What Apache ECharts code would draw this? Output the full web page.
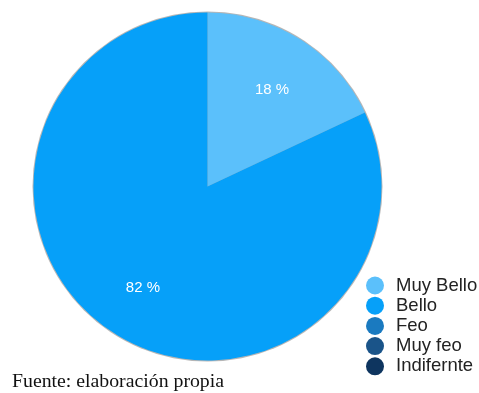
<!DOCTYPE html>
<html>
<head>
<meta charset="utf-8">
<script src="https://cdn.jsdelivr.net/npm/echarts@6/dist/echarts.min.js"></script>
<style>
  html, body { margin: 0; padding: 0; background: #fff; }
  #chart { width: 479px; height: 393px; }
</style>
</head>
<body>
<div id="chart"></div>
<script>
// Survey answers and their shares (percent)
const categories = ['Muy Bello', 'Bello', 'Feo', 'Muy feo', 'Indifernte'];
const values = [18, 82, 0, 0, 0];
const colors = ['#5bc0fb', '#06a0f9', '#1a7ac0', '#1a5489', '#0e355f'];
const sourceNote = 'Fuente: elaboración propia';

const pieData = categories.map((name, i) => ({
  name: name,
  value: values[i],
  itemStyle: { color: colors[i] }
}));

const center = [207.5, 186.5];
const R = 174;

const chart = echarts.init(document.getElementById('chart'), null, { renderer: 'canvas' });
chart.setOption({
  animation: false,
  title: {
    text: sourceNote,
    left: 12,
    top: 372,
    padding: 0,
    textStyle: {
      fontFamily: 'Liberation Serif',
      fontSize: 19.8,
      fontWeight: 'normal',
      color: '#111'
    }
  },
  legend: {
    data: categories,
    orient: 'vertical',
    left: 361,
    top: 271,
    icon: 'circle',
    itemWidth: 32,
    itemHeight: 18,
    itemGap: 1.2,
    textStyle: {
      fontFamily: 'Liberation Sans',
      fontSize: 18.5,
      lineHeight: 18,
      color: '#222'
    }
  },
  series: [
    {
      // soft outline around the disc
      type: 'pie',
      name: 'contorno',
      silent: true,
      center: center,
      radius: [0, R + 1],
      startAngle: 90,
      label: { show: false },
      labelLine: { show: false },
      data: [{ name: '', value: 1, itemStyle: { color: 'rgba(110,110,110,0.5)' } }]
    },
    {
      type: 'pie',
      name: 'Opinión',
      center: center,
      radius: [0, R],
      startAngle: 90,
      clockwise: true,
      avoidLabelOverlap: false,
      label: { show: false },
      labelLine: { show: false },
      data: pieData
    },
    {
      // percentage labels placed about two thirds out from the centre
      type: 'pie',
      name: 'etiquetas',
      silent: true,
      center: center,
      radius: [0, R * 1.35],
      startAngle: 90,
      clockwise: true,
      avoidLabelOverlap: false,
      itemStyle: { color: 'rgba(0,0,0,0)' },
      label: {
        show: true,
        position: 'inside',
        fontFamily: 'Liberation Sans',
        fontSize: 15,
        color: '#ffffff',
        formatter: p => (p.value > 0 ? p.value + ' %' : '')
      },
      labelLine: { show: false },
      data: categories.map((name, i) => ({
        name: name,
        value: values[i],
        label: i === 0 ? { offset: [0, 5] } : undefined
      }))
    }
  ]
});
</script>
</body>
</html>
